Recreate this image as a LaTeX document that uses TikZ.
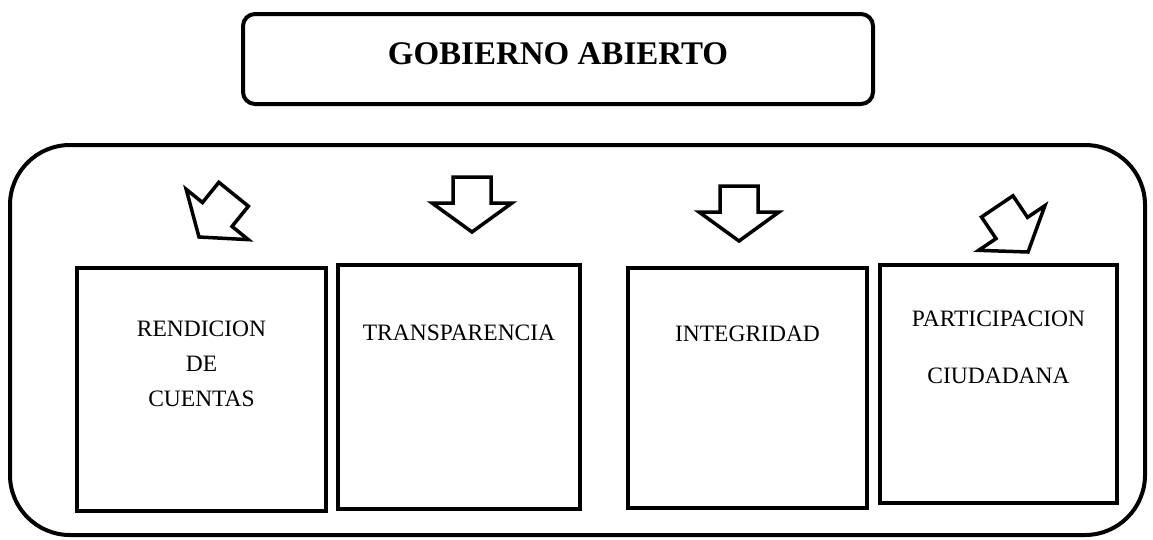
\documentclass[tikz,border=0pt]{standalone}
\usepackage{fontspec}
\setmainfont{Liberation Serif}
\usetikzlibrary{positioning}
\tikzset{itembox/.style={draw,line width=4pt,align=center,text height=16pt,font=\fontsize{23.5}{35}\selectfont},
         outerbox/.style={draw,line width=4pt,rounded corners=60pt},
         hollow/.style={draw,line width=3.5pt},
         pics/bigarrow/.style={code={\draw[hollow] (-19,-55) -- (19,-55) -- (19,-29) -- (40,-29) -- (0,0) -- (-40,-29) -- (-19,-29) -- cycle;}}
}

\begin{document}
\begin{tikzpicture}[x=1pt,y=-1pt]
\useasboundingbox (0,0) rectangle (1153,539);

\node[outerbox,minimum width=1135pt,minimum height=390pt] (marco) at (577.5,340) {};
\node[itembox,rounded corners=12pt,minimum width=630pt,minimum height=90pt,font=\fontsize{33}{36}\selectfont\bfseries,text height=22pt,text depth=12pt] (title) at (558,59) {GOBIERNO ABIERTO};

\node[itembox,minimum width=249pt,minimum height=243pt,text height=33pt,text depth=0pt] (rendicion) at (201.5,389.5) {RENDICION\\DE\\CUENTAS};
\node[itembox,minimum width=242pt,minimum height=244pt,right=8pt of rendicion,yshift=2.5pt,text depth=110pt] (transp) {TRANSPARENCIA};
\node[itembox,minimum width=239pt,minimum height=240pt,right=44pt of transp,yshift=-1pt,text depth=110pt] (integ) {INTEGRIDAD};
\node[itembox,minimum width=237pt,minimum height=238pt,right=9pt of integ,yshift=4pt,font=\fontsize{23.5}{57}\selectfont,text depth=18pt] (partic) {PARTICIPACION\\CIUDADANA};

\pic[rotate=-39] at (199,237) {bigarrow};
\pic at (472,232) {bigarrow};
\pic at (739,241) {bigarrow};
\pic[rotate=34] at (1028,252) {bigarrow};

\end{tikzpicture}
\end{document}
